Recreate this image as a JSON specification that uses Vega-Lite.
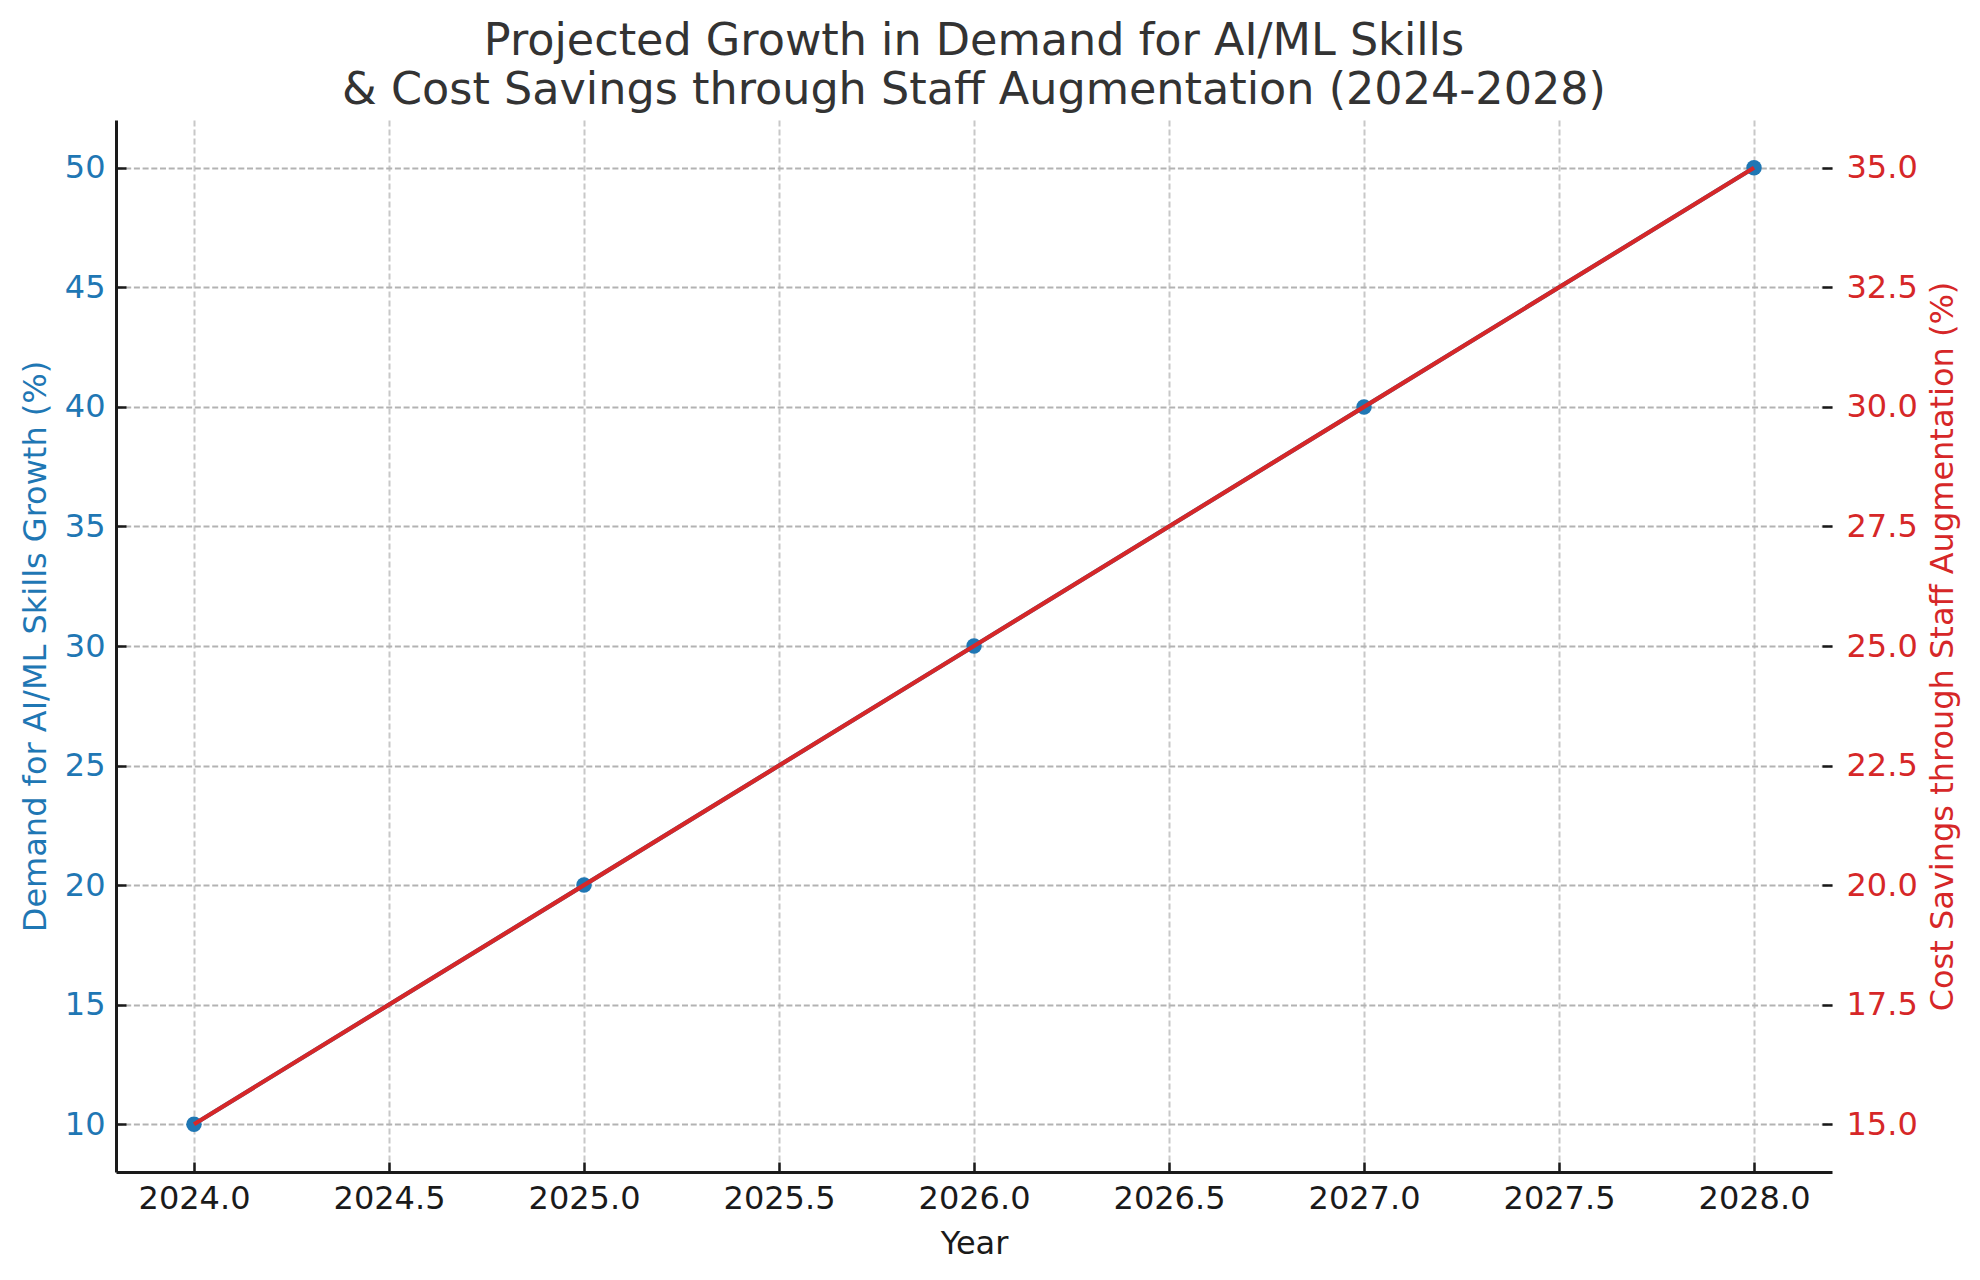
{
  "$schema": "https://vega.github.io/schema/vega-lite/v6.json",
  "autosize": "none",
  "width": 1716,
  "height": 1052,
  "padding": {"left": 116, "top": 120, "right": 148, "bottom": 108},
  "background": "white",
  "title": {
    "text": ["Projected Growth in Demand for AI/ML Skills", "& Cost Savings through Staff Augmentation (2024-2028)"],
    "font": "DejaVu Sans",
    "fontSize": 44.5,
    "fontWeight": "normal",
    "color": "#333333",
    "lineHeight": 49,
    "anchor": "middle",
    "offset": 7
  },
  "data": {
    "values": [
      {"Year": 2024, "Demand": 10, "Savings": 15},
      {"Year": 2025, "Demand": 20, "Savings": 20},
      {"Year": 2026, "Demand": 30, "Savings": 25},
      {"Year": 2027, "Demand": 40, "Savings": 30},
      {"Year": 2028, "Demand": 50, "Savings": 35}
    ]
  },
  "encoding": {
    "x": {
      "field": "Year",
      "type": "quantitative",
      "scale": {"domain": [2023.8, 2028.2], "nice": false, "zero": false},
      "axis": {
        "title": "Year",
        "values": [2024, 2024.5, 2025, 2025.5, 2026, 2026.5, 2027, 2027.5, 2028],
        "format": ".1f",
        "grid": true,
        "gridColor": "#c8c8c8",
        "gridDash": [6, 3],
        "gridWidth": 2,
        "tickSize": -10,
        "tickWidth": 2.5,
        "tickColor": "#1a1a1a",
        "labelPadding": 21,
        "titlePadding": 14,
        "labelColor": "#1a1a1a",
        "titleColor": "#1a1a1a"
      }
    }
  },
  "layer": [
    {
      "layer": [
        {
          "mark": {"type": "line", "color": "#1f77b4", "strokeWidth": 4.2},
          "encoding": {
            "y": {
              "field": "Demand",
              "type": "quantitative",
              "scale": {"domain": [8, 52], "nice": false, "zero": false},
              "axis": {
                "title": "Demand for AI/ML Skills Growth (%)",
                "orient": "left",
                "values": [10, 15, 20, 25, 30, 35, 40, 45, 50],
                "format": "d",
                "grid": true,
                "gridColor": "#b3b3b3",
                "gridDash": [6, 2.7],
                "gridWidth": 2,
                "tickSize": -10,
                "tickWidth": 2.5,
                "tickColor": "#1a1a1a",
                "labelPadding": 21,
                "labelColor": "#1f77b4",
                "titleColor": "#1f77b4",
                "titleAngle": 270,
                "titleBaseline": "alphabetic",
                "titleX": -71,
                "titleY": 526
              }
            }
          }
        },
        {
          "mark": {"type": "point", "filled": true, "color": "#1f77b4", "size": 240, "opacity": 1, "shape": "circle"},
          "encoding": {
            "y": {"field": "Demand", "type": "quantitative"}
          }
        }
      ]
    },
    {
      "mark": {"type": "line", "color": "#d62728", "strokeWidth": 4.2},
      "encoding": {
        "y": {
          "field": "Savings",
          "type": "quantitative",
          "scale": {"domain": [14, 36], "nice": false, "zero": false},
          "axis": {
            "title": "Cost Savings through Staff Augmentation (%)",
            "orient": "right",
            "values": [15, 17.5, 20, 22.5, 25, 27.5, 30, 32.5, 35],
            "format": ".1f",
            "grid": false,
            "domain": false,
            "tickSize": -10,
            "tickWidth": 2.5,
            "tickColor": "#1a1a1a",
            "labelPadding": 24,
            "labelColor": "#d62728",
            "titleColor": "#d62728",
            "titleAngle": 270,
            "titleBaseline": "alphabetic",
            "titleX": 120,
            "titleY": 526
          }
        }
      }
    }
  ],
  "resolve": {"scale": {"y": "independent"}},
  "config": {
    "font": "DejaVu Sans",
    "view": {"stroke": null},
    "axis": {
      "labelFont": "DejaVu Sans",
      "titleFont": "DejaVu Sans",
      "labelFontSize": 32,
      "titleFontSize": 32,
      "titleFontWeight": "normal",
      "domainColor": "#1a1a1a",
      "domainWidth": 3,
      "labelFlush": false,
      "labelOverlap": false
    }
  }
}
